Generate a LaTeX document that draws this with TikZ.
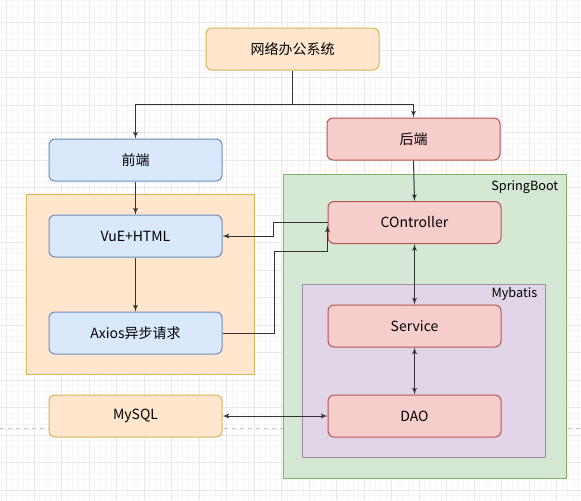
\documentclass[tikz,border=0pt]{standalone}
\usepackage{fontspec}
\setmainfont{Noto Sans CJK SC}
\usepackage{tikz}
\usetikzlibrary{arrows,shapes,positioning,calc}

\definecolor{orgfill}{HTML}{FFE6CC}
\definecolor{orgline}{HTML}{D6B656}
\definecolor{bluefill}{HTML}{DAE8FC}
\definecolor{blueline}{HTML}{6C8EBF}
\definecolor{redfill}{HTML}{F8CECC}
\definecolor{redline}{HTML}{B85450}
\definecolor{greenfill}{HTML}{D5E8D4}
\definecolor{greenline}{HTML}{82B366}
\definecolor{purfill}{HTML}{E1D5E7}
\definecolor{purline}{HTML}{9E8FA8}
\definecolor{wire}{HTML}{333333}

\begin{document}
\begin{tikzpicture}[x=0.75pt,y=-0.75pt,
	box/.style={rectangle,rounded corners=4.5pt,draw,line width=0.75pt,minimum width=129.75pt,minimum height=31.5pt,inner sep=0pt,font=\fontsize{10.5}{12}\selectfont},
	frame/.style={rectangle,draw,line width=0.75pt,inner sep=0pt},
	tag/.style={inner sep=0pt,font=\fontsize{9.5}{11}\selectfont},
	wirel/.style={draw=wire,line width=0.75pt}]
	\fill[white] (0,0) rectangle (581,500);
	\useasboundingbox (0,0) rectangle (581,500);
	% grid
	\foreach \gx in {0,...,106} \draw[gray!7,line width=0.4pt] (1+5.5*\gx,0) -- (1+5.5*\gx,500);
	\foreach \gy in {0,...,91} \draw[gray!7,line width=0.4pt] (0,0.5+5.5*\gy) -- (581,0.5+5.5*\gy);
	\foreach \gx in {0,...,21} \draw[gray!18,line width=0.5pt] (6.5+27.5*\gx,0) -- (6.5+27.5*\gx,500);
	\foreach \gy in {0,...,18} \draw[gray!18,line width=0.5pt] (0,22.5+27.5*\gy) -- (581,22.5+27.5*\gy);
	\draw[gray!45,dashed,line width=0.5pt] (0,428) -- (581,428);

	% frames
	\node[frame,fill=orgfill,draw=orgline,minimum width=171pt,minimum height=135pt] (web) at (140,284) {};
	\node[frame,fill=greenfill,draw=greenline,minimum width=212.25pt,minimum height=228pt] (spring) at (424.5,326) {};
	\node[frame,fill=purfill,draw=purline,minimum width=182.25pt,minimum height=129.75pt] (mybatis) at (423.5,370.5) {};
	\node[tag,anchor=north east] (springlbl) at ($(spring.north east)+(-8,7)$) {SpringBoot};
	\node[tag,anchor=north east] (mybatislbl) at ($(mybatis.north east)+(-8,4)$) {Mybatis};

	% boxes
	\node[box,fill=orgfill,draw=orgline] (sys) at (292.5,49) {网络办公系统};
	\node[box,fill=redfill,draw=redline] (back) at (413.5,139) {后端};
	\node[box,fill=bluefill,draw=blueline] (front) at (135.5,160) {前端};
	\node[box,fill=bluefill,draw=blueline] (vue) at (135.5,236) {VuE+HTML};
	\node[box,fill=bluefill,draw=blueline] (axios) at (135.5,333) {Axios异步请求};
	\node[box,fill=redfill,draw=redline] (ctrl) at (414.5,222.5) {COntroller};
	\node[box,fill=redfill,draw=redline] (service) at (414.5,326) {Service};
	\node[box,fill=redfill,draw=redline] (dao) at (414.5,416) {DAO};
	\node[box,fill=orgfill,draw=orgline] (mysql) at (135.5,416) {MySQL};

	% connectors
	\coordinate (split) at (292.5,104);
	\draw[wirel,-latex'] (sys.south) -- (split) -| (front.north);
	\draw[wirel,-latex'] (split) -| (back.north);
	\draw[wirel,-latex'] (back.south) -- (ctrl.north);
	\draw[wirel,-latex'] (front.south) -- (vue.north);
	\draw[wirel,-latex'] (vue.south) -- (axios.north);
	\draw[wirel,-latex'] (ctrl.west) -- ++(-54,0) |- (vue.east);
	\draw[wirel,-latex'] (axios.east) -- ++(52,0) |- ($(ctrl.south west)+(0,7)$) -- ($(ctrl.west)+(0,3)$);
	\draw[wirel,latex'-latex'] (ctrl.south) -- (service.north);
	\draw[wirel,latex'-latex'] (service.south) -- (dao.north);
	\draw[wirel,latex'-latex'] (mysql.east) -- (dao.west);
\end{tikzpicture}
\end{document}
